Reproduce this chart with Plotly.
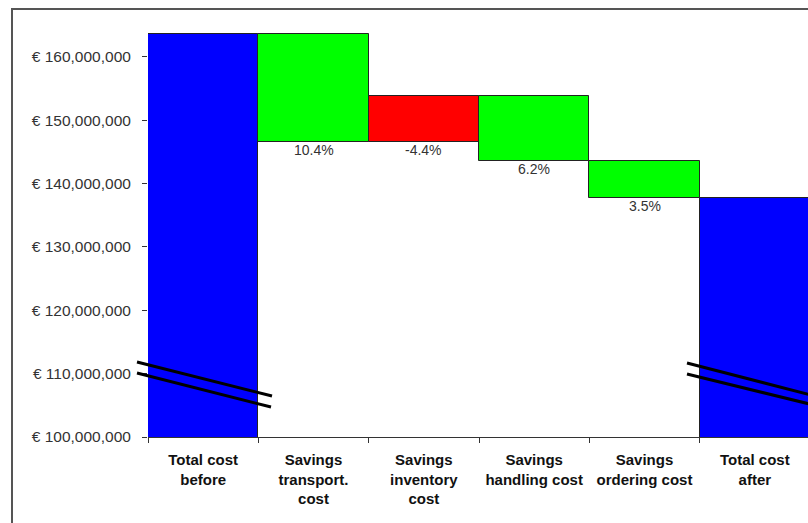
import plotly.graph_objects as go

categories = ["Total cost<br>before", "Savings<br>transport.<br>cost", "Savings<br>inventory<br>cost",
              "Savings<br>handling cost", "Savings<br>ordering cost", "Total cost<br>after"]
step_start = [0, 163.6e6, 146.6e6, 153.8e6, 143.6e6, 0]
step_end = [163.6e6, 146.6e6, 153.8e6, 143.6e6, 137.7e6, 137.7e6]
pct_labels = ["", "10.4%", "-4.4%", "6.2%", "3.5%", ""]
bar_colors = ["#0000FF", "#00FF00", "#FF0000", "#00FF00", "#00FF00", "#0000FF"]
y_ticks = [100e6, 110e6, 120e6, 130e6, 140e6, 150e6, 160e6]
y_tick_labels = ["€ 100,000,000", "€ 110,000,000", "€ 120,000,000", "€ 130,000,000",
                 "€ 140,000,000", "€ 150,000,000", "€ 160,000,000"]

FONT = "Arial, Liberation Sans, sans-serif"

bases = [min(s, e) for s, e in zip(step_start, step_end)]
heights = [abs(e - s) for s, e in zip(step_start, step_end)]

fig = go.Figure()
fig.add_trace(go.Bar(
    x=categories, y=heights, base=bases,
    marker=dict(color=bar_colors, line=dict(color="#222222", width=1)),
    width=1, showlegend=False, hoverinfo="skip",
))

for cat, s, e, lab in zip(categories, step_start, step_end, pct_labels):
    if lab:
        fig.add_annotation(x=cat, y=min(s, e), text=lab, showarrow=False,
                           yanchor="top", yshift=2,
                           font=dict(family=FONT, size=14, color="#333333"))

# geometry in window pixels (figure is slightly wider than the window; excess is clipped)
FIG_W, FIG_H = 810, 523
L, R, T, B = 148, 810, 25, 437
W, H = R - L, B - T

def px(x):
    return (x - L) / W

def py(y):
    return (B - y) / H

shapes = []
for (x0, y0, x1, y1) in [(137, 362, 272, 396), (137, 373, 271, 407),
                         (687, 363, 830, 400), (687, 374, 830, 409)]:
    shapes.append(dict(type="line", xref="paper", yref="paper",
                       x0=px(x0), y0=py(y0), x1=px(x1), y1=py(y1),
                       line=dict(color="black", width=3)))
shapes.append(dict(type="rect", xref="paper", yref="paper",
                   x0=px(12), y0=py(560), x1=px(860), y1=py(9),
                   line=dict(color="#555555", width=2), layer="above"))

fig.update_layout(
    width=FIG_W, height=FIG_H,
    margin=dict(l=L, r=FIG_W - R, t=T, b=FIG_H - B),
    paper_bgcolor="white", plot_bgcolor="white",
    bargap=0,
    shapes=shapes,
    font=dict(family=FONT),
    xaxis=dict(type="category", tickson="boundaries", ticks="outside", ticklen=5,
               tickcolor="#333333", showline=True, linecolor="#333333", linewidth=1,
               showgrid=False, tickfont=dict(family=FONT, size=15, color="#111111",
                                             weight="bold"),
               ticklabelstandoff=9, fixedrange=True),
    yaxis=dict(range=[100e6, 165e6], tickvals=y_ticks, ticktext=y_tick_labels,
               ticks="outside", ticklen=5, tickcolor="#333333", showline=False,
               showgrid=False, zeroline=False,
               tickfont=dict(family=FONT, size=15.5, color="#333333"),
               ticklabelstandoff=8),
)

fig.write_html("out.html", config={"displayModeBar": False},
               post_script="document.body.style.margin='0';document.body.style.overflow='hidden';")
